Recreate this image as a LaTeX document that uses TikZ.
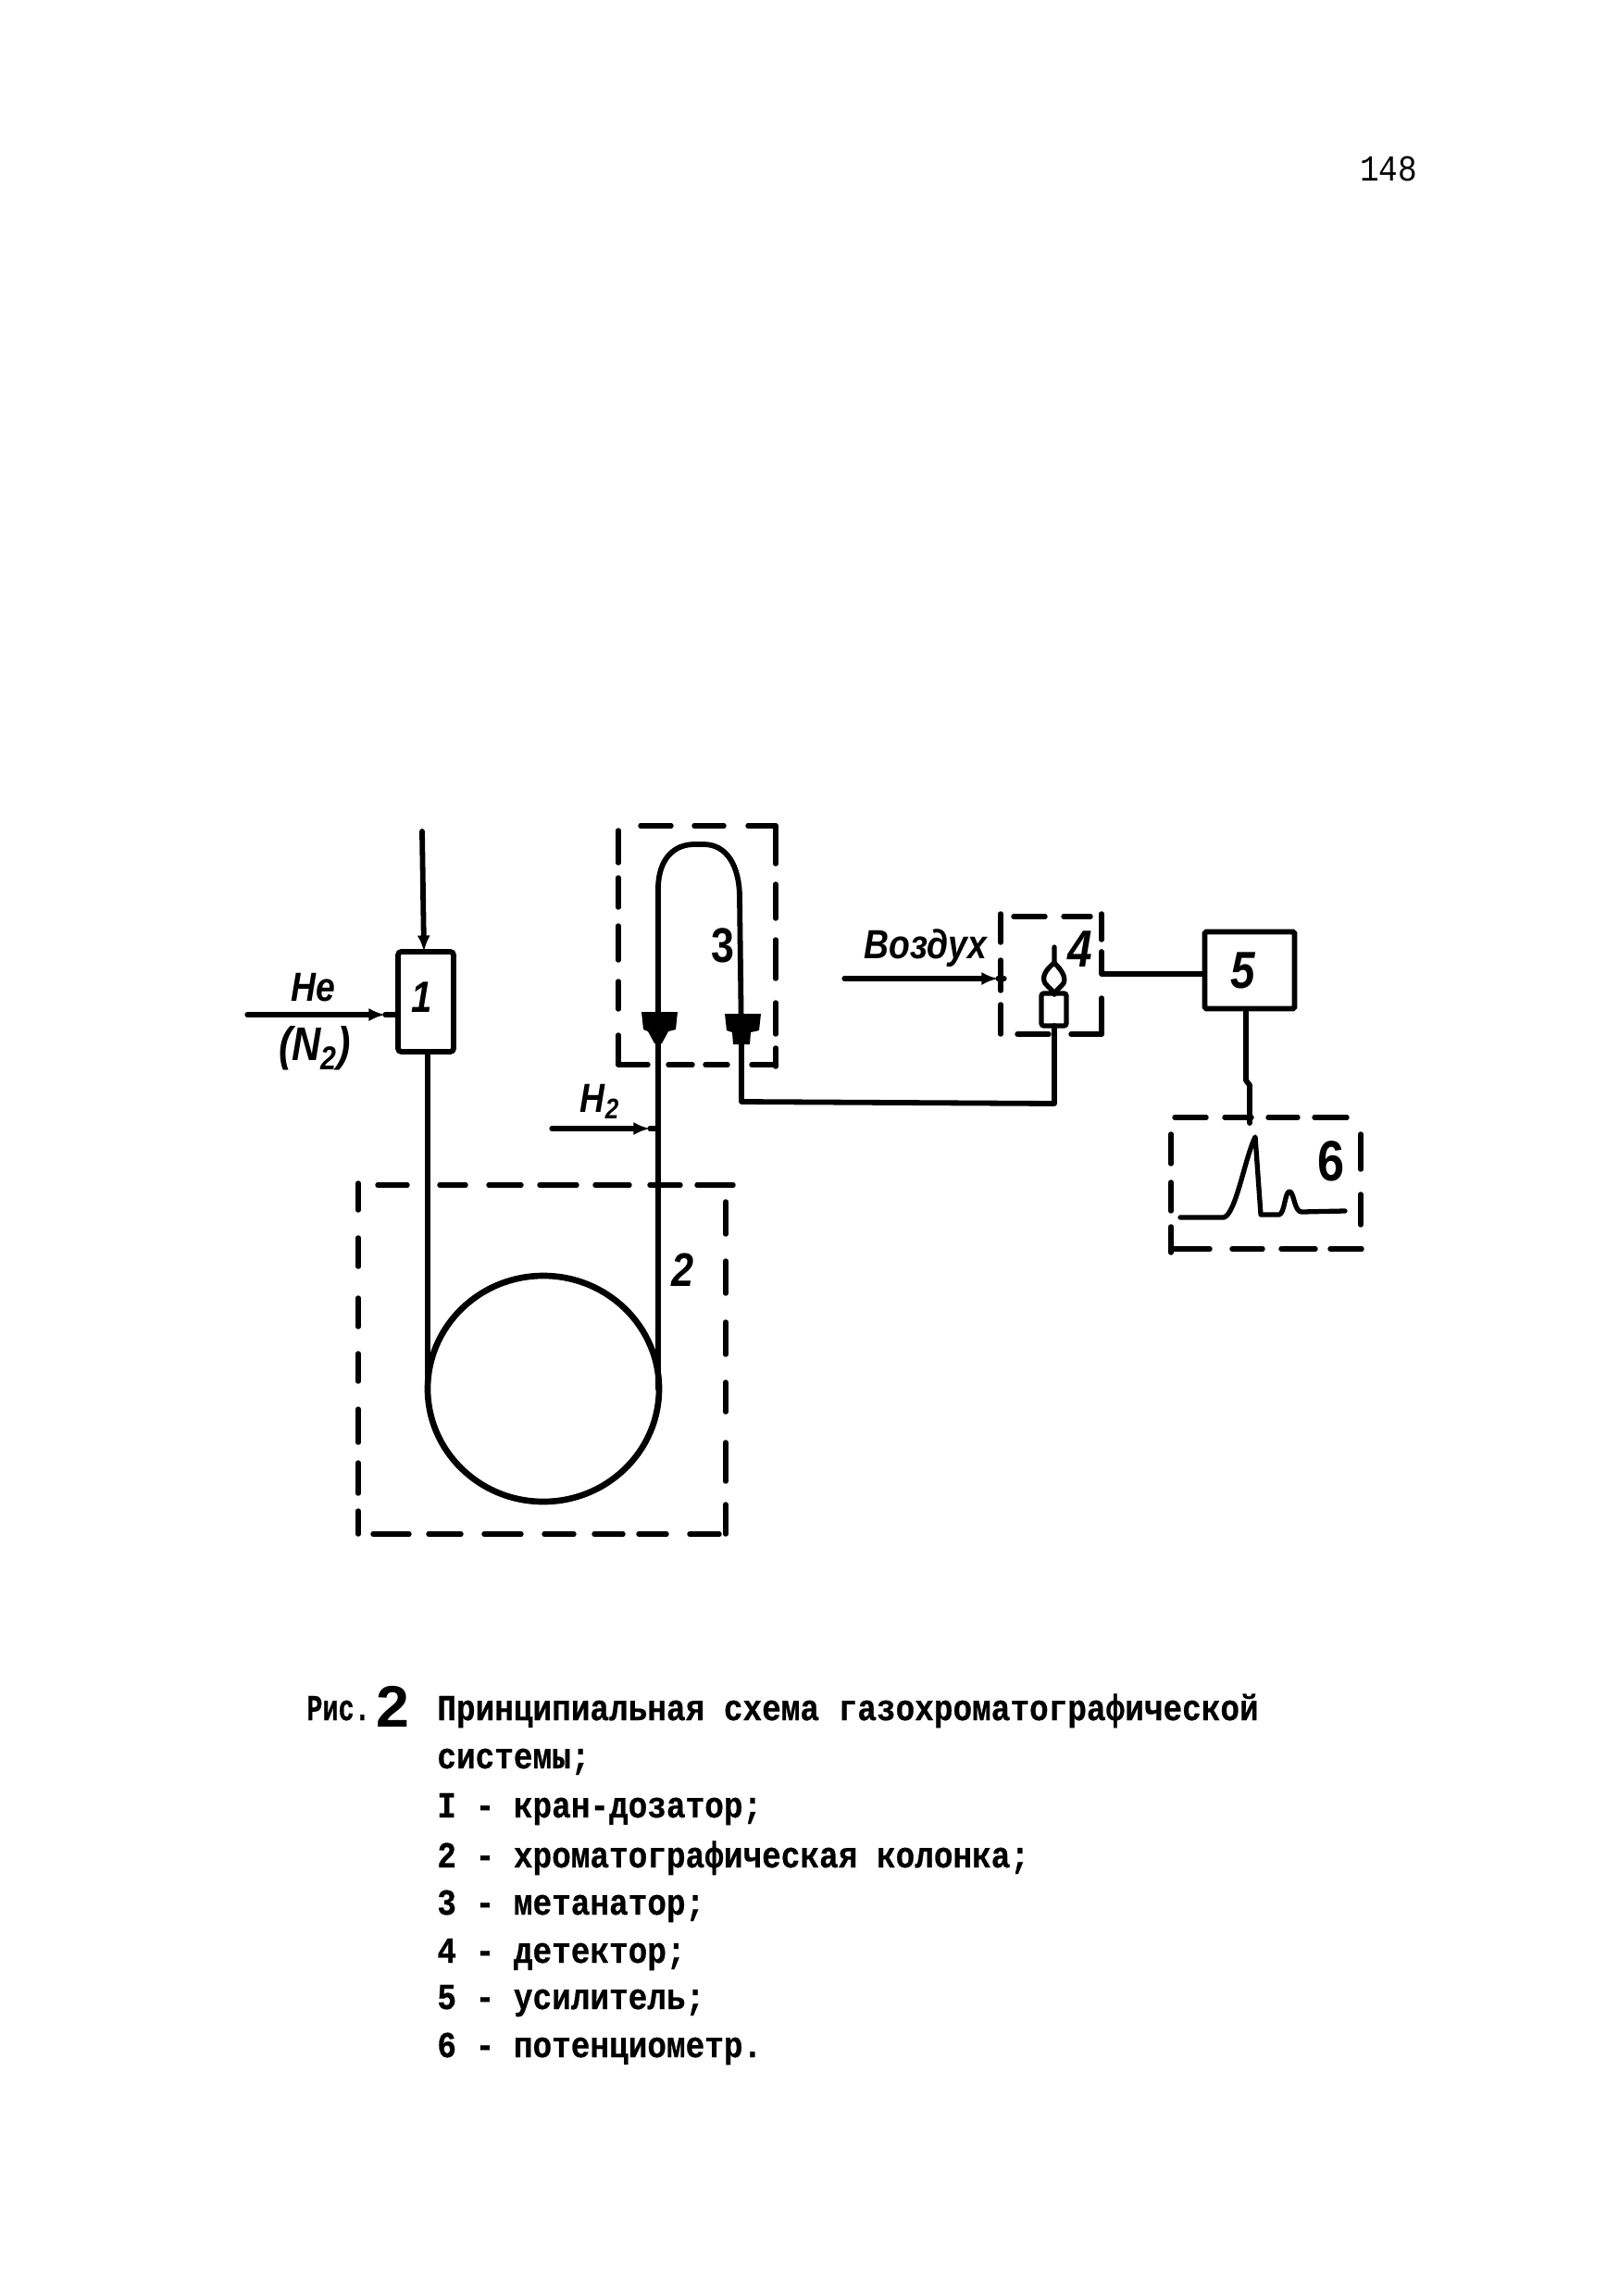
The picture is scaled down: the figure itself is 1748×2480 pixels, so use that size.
\documentclass[tikz,border=0pt]{standalone}
\usepackage{fontspec}
\setmainfont{Liberation Sans}
\newfontfamily\typefont{Liberation Mono}[FakeStretch=0.87,BoldFeatures={FakeBold=0.6}]
\newfontfamily\handfont{Liberation Sans}[FakeStretch=0.85]
\usetikzlibrary{arrows.meta}
\tikzset{
  pipe/.style={line width=3.3pt,line join=round,line cap=round},
  thinpipe/.style={line width=3pt,line cap=round},
  dashseg/.style={line width=3.1pt,line cap=round},
  unit/.style={draw,line width=3.3pt,rounded corners=2pt,inner sep=0pt},
  hand/.style={inner sep=0pt,font=\handfont\bfseries\itshape\fontsize{25pt}{28pt}\selectfont},
  handn/.style={inner sep=0pt,font=\handfont\bfseries\itshape\fontsize{#1pt}{36pt}\selectfont},
  handu/.style={inner sep=0pt,font=\handfont\bfseries\fontsize{#1pt}{40pt}\selectfont},
  capt/.style={inner sep=0pt,anchor=base west,font=\typefont\bfseries\fontsize{22.5pt}{25pt}\selectfont},
  tip/.style={-{Latex[length=10pt,width=8pt]}}
}
\newcommand{\dashesH}[2]{\foreach \a/\b in {#2} \draw[dashseg] (\a,#1) -- (\b,#1);}
\newcommand{\dashesV}[2]{\foreach \a/\b in {#2} \draw[dashseg] (#1,\a) -- (#1,\b);}
\begin{document}
\begin{tikzpicture}[x=0.02cm,y=-0.02cm]
\useasboundingbox (0,0) rectangle (1748,2480);
\fill[white] (0,0) rectangle (1748,2480);

% page number
\node[inner sep=0pt,font=\typefont\fontsize{22.5pt}{25pt}\selectfont] (page) at (1500,182) {148};

% unit nodes
\node[unit,minimum width=1.2cm,minimum height=2.16cm] (b1) at (460,1082) {};
\node[handn=27] (n1) at (456,1077) {1};
\node[unit,rounded corners=1pt,minimum width=1.94cm,minimum height=1.66cm] (b5) at (1350,1048) {};
\node[handn=32] (n5) at (1343,1048) {5};

% coordinates
\coordinate (in1) at (456,898);
\coordinate (in1t) at (458,1028);
\coordinate (he0) at (267,1096);
\coordinate (het) at (416,1096);
\coordinate (h20) at (596,1219);
\coordinate (h2t) at (702,1219);
\coordinate (air0) at (912,1057);
\coordinate (airt) at (1078,1057);
\coordinate (airend) at (1085,1057);
\coordinate (cL) at (462,1500);
\coordinate (cR) at (711,1500);
\coordinate (jn) at (711,1219);
\coordinate (mL) at (711,1127);
\coordinate (mR) at (801,1127);
\coordinate (mRd) at (801,1190);
\coordinate (det) at (1139,1108);
\coordinate (detd) at (1139,1192);
\coordinate (d4a) at (1190,1028);
\coordinate (d4b) at (1190,1052);
\coordinate (s1) at (1346,1167);
\coordinate (s2) at (1350,1172);
\coordinate (s3) at (1350,1213);

% connectors
\draw[pipe,tip] (in1) -- (in1t);
\draw[thinpipe,tip] (he0) -- (het);
\draw[thinpipe] (het) -- (b1.west |- het);
\draw[pipe] (b1.south -| cL) -- (cL);
\draw[line width=3.8pt] (cL) arc[start angle=180,end angle=540,x radius=125,y radius=122];
\draw[pipe] (cR) -- (jn) -- (mL);
\draw[thinpipe,tip] (h20) -- (h2t);
\draw[thinpipe] (h2t) -- (jn);
\draw[thinpipe,tip] (air0) -- (airt);
\draw[thinpipe] (airt) -- (airend);
\draw[pipe] (mL) -- (711,960) .. controls (711,928) and (728,912) .. (750,912)
  -- (760,912) .. controls (785,912) and (799,935) .. (799,970) -- (mR);
\draw[pipe] (mR) -- (mRd) -- (detd) -- (det);
\draw[pipe] (d4a) -- (d4b) -- (d4b -| b5.west);
\draw[pipe] (b5.south -| s1) -- (s1) -- (s2) -- (s3);

% methanator fittings
\fill (693,1093) -- (732,1093) -- (730,1112) -- (722,1114) -- (715,1127) -- (707,1127) -- (700,1114) -- (695,1112) -- cycle;
\fill (783,1095) -- (822,1095) -- (820,1113) -- (811,1115) -- (810,1128) -- (792,1128) -- (791,1115) -- (785,1113) -- cycle;

% detector
\draw[line width=3pt,rounded corners=1.5pt] (1125,1073) rectangle (1152,1108);
\draw[line width=3pt,line join=round,line cap=round] (1139,1023) -- (1139,1040)
  .. controls (1130,1047) and (1125,1055) .. (1129,1062) .. controls (1132,1066) and (1138,1070) .. (1139,1074);
\draw[line width=3pt,line cap=round] (1139,1040)
  .. controls (1146,1047) and (1152,1055) .. (1149,1062) .. controls (1146,1066) and (1140,1070) .. (1139,1074);

% dashed enclosures
\dashesH{892}{692/725, 750/782, 808/838}
\dashesV{668}{897/932, 948/980, 1000/1037, 1060/1090, 1118/1150}
\dashesV{838}{892/933, 955/992, 1015/1057, 1083/1117, 1132/1152}
\dashesH{1150}{668/700, 722/748, 762/786, 812/838}

\dashesH{1280}{408/440, 475/503, 528/563, 583/623, 643/680, 702/735, 753/792}
\dashesV{387}{1278/1307, 1337/1368, 1402/1433, 1462/1492, 1522/1558, 1580/1613, 1632/1657}
\dashesV{784}{1298/1333, 1362/1397, 1428/1463, 1493/1525, 1558/1600, 1625/1657}
\dashesH{1657}{403/442, 463/498, 523/563, 588/620, 642/673, 690/720, 745/777}

\dashesH{990}{1095/1129, 1149/1178}
\dashesV{1081}{987/1018, 1037/1070, 1085/1117}
\dashesV{1190}{987/1015, 1078/1117}
\dashesH{1117}{1099/1133, 1157/1190}

\dashesH{1207}{1269/1303, 1323/1352, 1370/1402, 1420/1455}
\dashesV{1265}{1225/1257, 1277/1308, 1325/1353}
\dashesV{1470}{1225/1263, 1290/1323}
\dashesH{1349}{1265/1307, 1331/1364, 1384/1421, 1437/1471}

% chromatogram
\draw[line width=3pt,line join=round,line cap=round] (1275,1315) -- (1322,1315)
  .. controls (1335,1312) and (1345,1250) .. (1356,1228)
  -- (1362,1312) -- (1382,1312) .. controls (1388,1310) and (1388,1287) .. (1393,1287)
  .. controls (1398,1287) and (1398,1309) .. (1406,1309) -- (1453,1308);

% labels
\node[hand] (he) at (338,1067) {He};
\node[handn=29] (n2) at (340,1132) {(N\textsubscript{2})};
\node[hand] (h2) at (648,1190) {H\textsubscript{2}};
\node[handu=30] (n3) at (781,1021) {3};
\node[handn=29] (n2l) at (738,1372) {2};
\node[hand] (air) at (1000,1024) {Воздух};
\node[handn=32] (n4) at (1167,1025) {4};
\node[handu=35] (n6) at (1438,1254) {6};

% caption
\node[capt] (cr) at (331,1858) {\scalebox{0.83}[1]{Рис.}};
\node[handu=36,anchor=base west] (c2) at (406,1865) {\scalebox{1.2}[1]{2}};
\node[capt] (c0) at (472,1858) {Принципиальная схема газохроматографической};
\node[capt] (c1) at (472,1910) {системы;};
\node[capt] (l1) at (472,1963) {I - кран-дозатор;};
\node[capt] (l2) at (472,2017) {2 - хроматографическая колонка;};
\node[capt] (l3) at (472,2068) {3 - метанатор;};
\node[capt] (l4) at (472,2120) {4 - детектор;};
\node[capt] (l5) at (472,2170) {5 - усилитель;};
\node[capt] (l6) at (472,2222) {6 - потенциометр.};
\end{tikzpicture}
\end{document}
